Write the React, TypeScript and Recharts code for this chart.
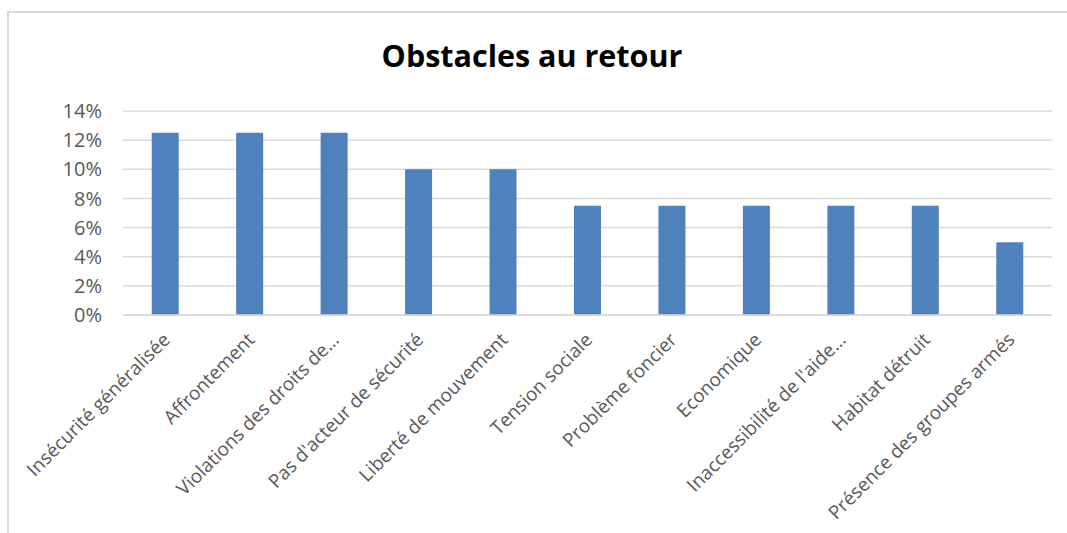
import React from "react";
import { BarChart, Bar, XAxis, YAxis, CartesianGrid } from "recharts";

const categories = [
  "Insécurité généralisée",
  "Affrontement",
  "Violations des droits de…",
  "Pas d'acteur de sécurité",
  "Liberté de mouvement",
  "Tension sociale",
  "Problème foncier",
  "Economique",
  "Inaccessibilité de l'aide…",
  "Habitat détruit",
  "Présence des groupes armés",
];
const values = [12.5, 12.5, 12.5, 10, 10, 7.5, 7.5, 7.5, 7.5, 7.5, 5];
const yTicks = [0, 2, 4, 6, 8, 10, 12, 14];
const title = "Obstacles au retour";

const data = categories.map((c, i) => ({ name: c, value: values[i] }));

const FONT = "'Open Sans', sans-serif";

const XTick = (props: any) => {
  const { x, y, payload } = props;
  const ax = x + 6;
  const ay = y + 18;
  return (
    <text
      x={ax}
      y={ay}
      transform={`rotate(-45, ${ax}, ${ay})`}
      textAnchor="end"
      fill="#595959"
      fontSize={18.9}
      fontFamily={FONT}
    >
      {payload.value}
    </text>
  );
};

export default function App() {
  return (
    <div style={{ position: "fixed", left: 0, top: 0, width: 1067, height: 533, overflow: "hidden", background: "#fff" }}>
      <div style={{ position: "absolute", left: 7, top: 11, width: 1060, height: 2, background: "#d9d9d9" }} />
      <div style={{ position: "absolute", left: 7, top: 11, width: 2, height: 522, background: "#d9d9d9" }} />
      <div style={{ position: "absolute", left: 8, top: 8 }}>
        <BarChart
          width={1059}
          height={525}
          data={data}
          margin={{ top: 103, right: 15, bottom: 0, left: 0 }}
          barCategoryGap="34%"
        >
          <text
            x={524}
            y={47}
            textAnchor="middle"
            dominantBaseline="central"
            fontSize={30.5}
            fontWeight="bold"
            fontFamily={FONT}
            fill="#000"
          >
            {title}
          </text>
          <CartesianGrid vertical={false} stroke="#d9d9d9" strokeWidth={1.5} />
          <XAxis
            dataKey="name"
            interval={0}
            height={218}
            tick={<XTick />}
            tickLine={false}
            axisLine={{ stroke: "#d9d9d9", strokeWidth: 1.5 }}
          />
          <YAxis
            width={115}
            domain={[0, 14]}
            ticks={yTicks}
            tickFormatter={(v: number) => `${v}%`}
            tickLine={false}
            axisLine={false}
            tickSize={0}
            tickMargin={21}
            tick={{ fill: "#595959", fontSize: 20, fontFamily: FONT }}
          />
          <Bar dataKey="value" fill="#4f81bd" isAnimationActive={false} />
        </BarChart>
      </div>
    </div>
  );
}
